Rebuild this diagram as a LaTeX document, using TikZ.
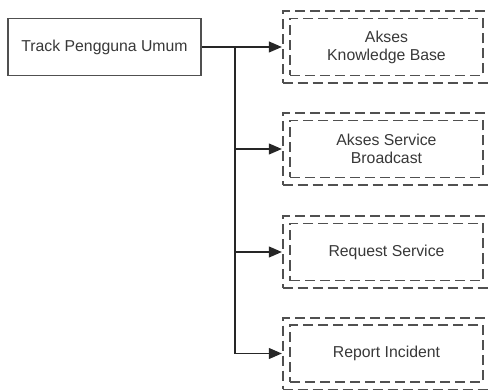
\documentclass[tikz,border=0pt]{standalone}
\usepackage{fontspec}
\setmainfont{Liberation Sans}
\usetikzlibrary{arrows.meta,fit}
\definecolor{ink}{HTML}{383838}
\definecolor{edge}{HTML}{505050}
\begin{document}
\begin{tikzpicture}[x=1pt,y=-1pt,
  font=\fontsize{15.8}{18}\selectfont,
  plainbox/.style={draw=edge,line width=1.6pt,text=ink,minimum width=193pt,
    minimum height=57pt,inner sep=0pt,align=center},
  innerbox/.style={draw=edge,line width=1.7pt,dash pattern=on 10pt off 5pt,
    text=ink,minimum width=193pt,minimum height=57pt,inner sep=0pt,align=center},
  outerbox/.style={draw=edge,line width=1.7pt,dash pattern=on 10pt off 5pt,
    inner sep=6.5pt},
  link/.style={draw=black!85,line width=1.2pt},
  arr/.style={link,-{Triangle[length=13pt,width=11pt]}}]
\useasboundingbox (0,0) rectangle (490,390);

% source box
\node[plainbox] (track) at (104.5,47) {Track Pengguna Umum};

% target boxes, each with a double dashed border
\node[innerbox] (kb) at (386.5,47) {Akses\\Knowledge Base};
\node[outerbox,fit=(kb)] (kbo) {};
\node[innerbox] (sb) at (386.5,149) {Akses Service\\Broadcast};
\node[outerbox,fit=(sb)] (sbo) {};
\node[innerbox] (rs) at (386.5,252) {Request Service};
\node[outerbox,fit=(rs)] (rso) {};
\node[innerbox] (ri) at (386.5,353.5) {Report Incident};
\node[outerbox,fit=(ri)] (rio) {};

% branching connectors
\coordinate (split) at (235,47);
\draw[arr] (track) -- (kbo);
\draw[link] (split) -- (split |- rio.west);
\draw[arr] (split) |- (sbo.west);
\draw[arr] (split) |- (rso.west);
\draw[arr] (split) |- (rio.west);
\end{tikzpicture}
\end{document}
